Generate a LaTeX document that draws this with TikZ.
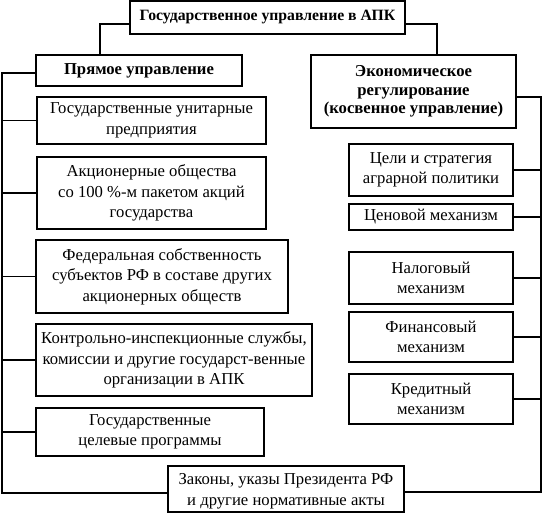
\documentclass[tikz,border=0pt]{standalone}
\usepackage{fontspec}
\setmainfont{Liberation Serif}
\begin{document}
\begin{tikzpicture}[x=0.75pt,y=-0.75pt,
  box/.style={draw,line width=0.8pt,inner sep=0pt,align=center,
    font=\fontsize{12.5}{15.4}\selectfont},
  bbox/.style={box,font=\fontsize{12.5}{14}\selectfont\bfseries},
  tbox/.style={box,font=\fontsize{11.8}{14}\selectfont\bfseries},
  conn/.style={line width=0.8pt}]
\useasboundingbox (0,0) rectangle (542,518);
\newcommand\mybox[7][box]{%
  \node[#1,minimum width={(#5-#3)*0.75pt},minimum height={(#6-#4)*0.75pt}]
    (#2) at ({(#3+#5)/2},{(#4+#6)/2}) {#7};}
% top
\mybox[tbox]{top}{130}{1}{405}{34}{Государственное управление в АПК}
\mybox[bbox]{pr}{36}{55}{242}{86}{Прямое управление}
\mybox[bbox]{ek}{311}{55}{516}{128}{Экономическое\\регулирование\\(косвенное управление)}
% left column
\mybox{b1}{37}{97}{266}{144}{Государственные унитарные\\предприятия}
\mybox{b2}{37}{157}{266}{229}{Акционерные общества\\со 100 \%-м пакетом акций\\государства}
\mybox{b3}{36}{240}{288}{313}{Федеральная собственность\\субъектов РФ в составе других\\акционерных обществ}
\mybox{b4}{36}{324}{312}{396}{Контрольно-инспекционные службы,\\комиссии и другие государст-венные\\организации в АПК}
\mybox{b5}{36}{408}{264}{456}{Государственные\\целевые программы}
% right column
\mybox{r1}{349}{144}{513}{196}{Цели и стратегия\\аграрной политики}
\mybox{r2}{349}{204}{513}{230}{Ценовой механизм}
\mybox{r3}{349}{252}{513}{304}{Налоговый\\механизм}
\mybox{r4}{349}{312}{513}{362}{Финансовый\\механизм}
\mybox{r5}{349}{374}{513}{424}{Кредитный\\механизм}
% bottom
\mybox{bot}{168}{466}{404}{512}{\rule{0pt}{12pt}Законы, указы Президента РФ\\и другие нормативные акты}
% connectors from top
\draw[conn] (top.west |- 0,24) -| (pr.north -| 100,0);
\draw[conn] (top.east |- 0,24) -| (ek.north -| 437,0);
% left bus
\coordinate (Lt) at (2,73);
\coordinate (Lb) at (2,493);
\draw[conn] (pr.west |- Lt) -- (Lt) -- (Lb) -- (bot.west |- Lb);
\foreach \n in {b1,b2,b3,b4,b5} \draw[conn] (\n.west) -- (\n.west -| Lt);
% right bus
\coordinate (Rt) at (541,97);
\coordinate (Rb) at (541,492);
\draw[conn] (ek.east |- Rt) -- (Rt) -- (Rb) -- (bot.east |- Rb);
\foreach \n in {r1,r2,r3,r4,r5} \draw[conn] (\n.east) -- (\n.east -| Rt);
\end{tikzpicture}
\end{document}
